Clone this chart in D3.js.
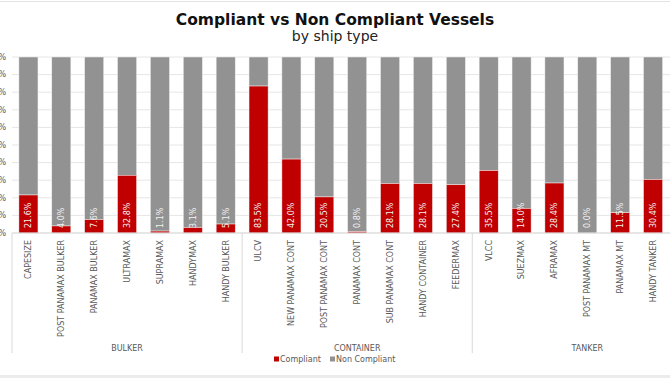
<!DOCTYPE html>
<html>
<head>
<meta charset="utf-8">
<script src="https://cdn.jsdelivr.net/npm/d3@7"></script>
<style>
  body { margin: 0; background: #fff; }
  svg { display: block; font-family: "DejaVu Sans", Verdana, sans-serif; }
</style>
</head>
<body>
<div id="vis"></div>
<script>
// chart data
const GROUPS = ["BULKER", "CONTAINER", "TANKER"];
const CATEGORIES = [
  "CAPESIZE", "POST PANAMAX BULKER", "PANAMAX BULKER", "ULTRAMAX", "SUPRAMAX", "HANDYMAX", "HANDY BULKER",
  "ULCV", "NEW PANAMAX CONT", "POST PANAMAX CONT", "PANAMAX CONT", "SUB PANAMAX CONT", "HANDY CONTAINER", "FEEDERMAX",
  "VLCC", "SUEZMAX", "AFRAMAX", "POST PANAMAX MT", "PANAMAX MT", "HANDY TANKER"
];
const CAT_GROUP = [
  "BULKER", "BULKER", "BULKER", "BULKER", "BULKER", "BULKER", "BULKER",
  "CONTAINER", "CONTAINER", "CONTAINER", "CONTAINER", "CONTAINER", "CONTAINER", "CONTAINER",
  "TANKER", "TANKER", "TANKER", "TANKER", "TANKER", "TANKER"
];
const COMPLIANT = [21.6, 4.0, 7.6, 32.8, 1.1, 3.1, 5.1,
                   83.5, 42.0, 20.5, 0.8, 28.1, 28.1, 27.4,
                   35.5, 14.0, 28.4, 0.0, 11.5, 30.4];
const NON_COMPLIANT = [78.4, 96.0, 92.4, 67.2, 98.9, 96.9, 94.9,
                       16.5, 58.0, 79.5, 99.2, 71.9, 71.9, 72.6,
                       64.5, 86.0, 71.6, 100.0, 88.5, 69.6];
const SERIES = ["Compliant", "Non Compliant"];
const Y_TICKS = [0, 10, 20, 30, 40, 50, 60, 70, 80, 90, 100];

// frame
const FRAME_WIDTH = 670;
const FRAME_HEIGHT = 380;
const PLOT = {left: 12, right: 669.5, top: 57, bottom: 233};
const COLORS = {"Compliant": "#c00000", "Non Compliant": "#929292"};
const GROUP_SLOTS = 7; // group labels sit centred on a 7-slot span, as in the source

const svg = d3.select("#vis").append("svg")
  .attr("width", FRAME_WIDTH)
  .attr("height", FRAME_HEIGHT);

// chart border lines (top / bottom)
svg.append("line").attr("x1", 0).attr("x2", FRAME_WIDTH).attr("y1", 1.5).attr("y2", 1.5)
  .attr("stroke", "#e3e3e3").attr("stroke-width", 1);
svg.append("line").attr("x1", 0).attr("x2", FRAME_WIDTH).attr("y1", 376.5).attr("y2", 376.5)
  .attr("stroke", "#ececec").attr("stroke-width", 3);

// title
svg.append("text")
  .attr("x", FRAME_WIDTH / 2).attr("y", 25)
  .attr("text-anchor", "middle")
  .attr("font-size", "15.5px").attr("font-weight", "bold").attr("fill", "#111")
  .text("Compliant vs Non Compliant Vessels");
svg.append("text")
  .attr("x", FRAME_WIDTH / 2).attr("y", 41)
  .attr("text-anchor", "middle")
  .attr("font-size", "14px").attr("fill", "#222")
  .text("by ship type");

// scales
const X_SCALE = d3.scaleBand()
  .domain(CATEGORIES)
  .range([PLOT.left, PLOT.right])
  .paddingInner(0.42)
  .paddingOuter(0.21);
const Y_SCALE = d3.scaleLinear()
  .domain([0, 100])
  .range([PLOT.bottom, PLOT.top]);

const STEP = X_SCALE.step();
const GAP = STEP - X_SCALE.bandwidth();
const slotStart = (c) => X_SCALE(c) - GAP / 2;

// gridlines
svg.append("g").selectAll("line")
  .data(Y_TICKS)
  .enter().append("line")
  .attr("x1", PLOT.left).attr("x2", FRAME_WIDTH)
  .attr("y1", (d) => Y_SCALE(d)).attr("y2", (d) => Y_SCALE(d))
  .attr("stroke", "#e6e6e6").attr("stroke-width", 1);

// y axis labels (cut off at the left edge, as in the source)
svg.append("g").selectAll("text")
  .data(Y_TICKS)
  .enter().append("text")
  .attr("x", 6)
  .attr("y", (d) => Y_SCALE(d))
  .attr("dy", "0.35em")
  .attr("text-anchor", "end")
  .attr("font-size", "8px").attr("fill", "#595959")
  .text((d) => d + "%");

// stacked bars
const rows = CATEGORIES.map((c, i) => ({cat: c, comp: COMPLIANT[i], non: NON_COMPLIANT[i]}));
const bars = svg.append("g");
bars.selectAll("rect.non")
  .data(rows)
  .enter().append("rect")
  .attr("class", "non")
  .attr("x", (d) => X_SCALE(d.cat))
  .attr("width", X_SCALE.bandwidth())
  .attr("y", (d) => Y_SCALE(d.comp + d.non))
  .attr("height", (d) => Y_SCALE(d.comp) - Y_SCALE(d.comp + d.non))
  .attr("fill", COLORS["Non Compliant"])
  .attr("stroke", "#f0f0f0").attr("stroke-width", 0.5);
bars.selectAll("rect.comp")
  .data(rows)
  .enter().append("rect")
  .attr("class", "comp")
  .attr("x", (d) => X_SCALE(d.cat))
  .attr("width", X_SCALE.bandwidth())
  .attr("y", (d) => Y_SCALE(d.comp))
  .attr("height", (d) => Y_SCALE(0) - Y_SCALE(d.comp))
  .attr("fill", COLORS["Compliant"])
  .attr("stroke", "#f0f0f0").attr("stroke-width", 0.5);

// value labels
bars.selectAll("text")
  .data(rows)
  .enter().append("text")
  .attr("transform", (d) => "translate(" + (X_SCALE(d.cat) + X_SCALE.bandwidth() / 2) + "," + (Y_SCALE(0) - 5) + ") rotate(-90)")
  .attr("dy", "0.35em")
  .attr("font-size", "8px").attr("fill", "#f2f2f2")
  .text((d) => d.comp.toFixed(1) + "%");

// x axis line
svg.append("line")
  .attr("x1", PLOT.left).attr("x2", FRAME_WIDTH)
  .attr("y1", Y_SCALE(0)).attr("y2", Y_SCALE(0))
  .attr("stroke", "#d9d9d9");

// category labels
svg.append("g").selectAll("text")
  .data(CATEGORIES)
  .enter().append("text")
  .attr("transform", (d) => "translate(" + (X_SCALE(d) + X_SCALE.bandwidth() / 2) + "," + (PLOT.bottom + 7) + ") rotate(-90)")
  .attr("dy", "0.35em")
  .attr("text-anchor", "end")
  .attr("font-size", "8px").attr("fill", "#595959")
  .text((d) => d);

// group separators and labels
const groupStarts = GROUPS.map((g) => slotStart(CATEGORIES[CAT_GROUP.indexOf(g)]));
svg.append("g").selectAll("line")
  .data(groupStarts)
  .enter().append("line")
  .attr("x1", (d) => d).attr("x2", (d) => d)
  .attr("y1", PLOT.bottom).attr("y2", 353)
  .attr("stroke", "#d9d9d9");
svg.append("g").selectAll("text")
  .data(GROUPS)
  .enter().append("text")
  .attr("x", (d, i) => groupStarts[i] + STEP * GROUP_SLOTS / 2)
  .attr("y", 351)
  .attr("text-anchor", "middle")
  .attr("font-size", "8px").attr("fill", "#595959")
  .text((d) => d);

// legend
const legend = svg.append("g").attr("transform", "translate(274,359)");
const LEG_X = [0, 56];
SERIES.forEach((s, i) => {
  legend.append("rect")
    .attr("x", LEG_X[i]).attr("y", -2.5)
    .attr("width", 5).attr("height", 5)
    .attr("fill", COLORS[s]);
  legend.append("text")
    .attr("x", LEG_X[i] + 6).attr("y", 0)
    .attr("dy", "0.35em")
    .attr("font-size", "8px").attr("fill", "#595959")
    .text(s);
});
</script>
</body>
</html>
